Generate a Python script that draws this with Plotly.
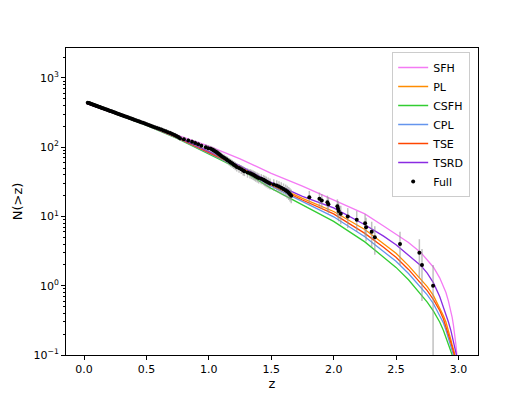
import plotly.graph_objects as go

# ---- data ----
# cumulative counts N(>z) of the full sample (black points)
z_full = [0.029, 0.037, 0.045, 0.052, 0.060, 0.068, 0.076, 0.084, 0.093, 0.100,
          0.108, 0.117, 0.126, 0.134, 0.143, 0.152, 0.161, 0.171, 0.181, 0.190,
          0.199, 0.209, 0.219, 0.229, 0.240, 0.250, 0.260, 0.271, 0.282, 0.293,
          0.304, 0.315, 0.326, 0.338, 0.351, 0.364, 0.377, 0.389, 0.401, 0.415,
          0.430, 0.443, 0.457, 0.472, 0.487, 0.502, 0.518, 0.533, 0.549, 0.566,
          0.584, 0.601, 0.619, 0.637, 0.655, 0.672, 0.690, 0.707, 0.725, 0.740,
          0.755, 0.769, 0.800, 0.835, 0.865, 0.890, 0.915, 0.940, 0.975,
          0.995, 1.015, 1.030, 1.040, 1.052, 1.063, 1.072, 1.080, 1.090, 1.100,
          1.112, 1.125, 1.140, 1.150, 1.165, 1.175, 1.188, 1.200, 1.212, 1.224,
          1.242, 1.260, 1.275, 1.285, 1.310, 1.330, 1.343, 1.355, 1.365, 1.375,
          1.388, 1.400, 1.420, 1.437, 1.448, 1.460, 1.475, 1.490, 1.520, 1.544,
          1.562, 1.580, 1.598, 1.615, 1.628, 1.640, 1.650, 1.660,
          1.805, 1.886, 1.905, 1.950, 1.958, 2.030, 2.035, 2.040, 2.057, 2.113,
          2.185, 2.252, 2.260, 2.305, 2.330, 2.532, 2.687, 2.708, 2.797]
n_full = [440, 435, 430, 425, 420, 415, 410, 405, 400, 395,
          390, 385, 380, 375, 370, 365, 360, 355, 350, 345,
          340, 335, 330, 325, 320, 315, 310, 305, 300, 295,
          290, 285, 280, 275, 270, 265, 260, 255, 250, 245,
          240, 235, 230, 225, 220, 215, 210, 205, 200, 195,
          190, 185, 180, 175, 170, 165, 160, 155, 150, 145,
          140, 135, 130, 125, 120, 115, 110, 105, 100,
          97, 95, 92, 90, 87, 85, 82, 80, 77, 75,
          72, 70, 67, 65, 62, 60, 58, 56, 54, 52,
          50, 48, 46, 45, 43, 42, 41, 40, 39, 38,
          37, 36, 35, 34, 33, 32, 31, 30, 29, 28,
          27, 26, 25, 24, 23, 22, 21, 20,
          19, 18, 17, 16, 15, 14, 13, 12, 11, 10,
          9, 8, 7, 6, 5, 4, 3, 2, 1]
err_full = [21.0, 20.9, 20.7, 20.6, 20.5, 20.4, 20.2, 20.1, 20.0, 19.9,
            19.7, 19.6, 19.5, 19.4, 19.2, 19.1, 19.0, 18.8, 18.7, 18.6,
            18.4, 18.3, 18.2, 18.0, 17.9, 17.7, 17.6, 17.5, 17.3, 17.2,
            17.0, 16.9, 16.7, 16.6, 16.4, 16.3, 16.1, 16.0, 15.8, 15.7,
            15.5, 15.3, 15.2, 15.0, 14.8, 14.7, 14.5, 14.3, 14.1, 14.0,
            13.8, 13.6, 13.4, 13.2, 13.0, 12.8, 12.6, 12.4, 12.2, 12.0,
            11.8, 11.6, 11.4, 11.2, 11.0, 10.7, 10.5, 10.2, 10.0,
            9.8, 9.7, 9.6, 9.5, 9.3, 9.2, 9.1, 8.9, 8.8, 8.7,
            8.5, 8.4, 8.2, 8.1, 7.9, 7.7, 7.6, 7.5, 7.3, 7.2,
            7.1, 6.9, 6.8, 6.7, 6.6, 6.5, 6.4, 6.3, 6.2, 6.2,
            6.1, 6.0, 5.9, 5.8, 5.7, 5.7, 5.6, 5.5, 5.4, 5.3,
            5.2, 5.1, 5.0, 4.9, 4.8, 4.7, 4.6, 4.5,
            4.4, 4.2, 4.1, 4.0, 3.9, 3.7, 3.6, 3.5, 3.3, 3.2,
            3.0, 2.8, 2.6, 2.4, 2.2, 2.0, 1.7, 1.4, 1.0]

# model predictions
z_model = [0.02, 0.25, 0.5, 0.75, 1.0, 1.25, 1.5, 1.75, 2.0, 2.25, 2.4, 2.5,
           2.6, 2.7, 2.75, 2.8, 2.85, 2.88, 2.9, 2.92, 2.94, 2.95, 2.96, 2.97,
           2.98, 2.99, 3.0]
n_sfh = [425, 300, 210, 148, 104, 68, 42, 27.5, 17.5, 10.9, 7.3, 5.6,
         4.2, 3.0, 2.4, 1.85, 1.3, 1.0, 0.8, 0.6, 0.43, 0.35, 0.27, 0.2,
         0.14, 0.09, 0.03]
n_pl = [435, 310, 210, 137, 86, 52, 29.5, 18.3, 11.8, 6.5, 4.1, 2.95,
        1.95, 1.25, 0.97, 0.72, 0.49, 0.37, 0.3, 0.23, 0.165, 0.14, 0.12, 0.105,
        0.05, 0.02, 0.01]
n_csfh = [435, 308, 207, 133, 81, 48, 25.5, 14.8, 8.5, 4.3, 2.6, 1.84,
          1.22, 0.76, 0.58, 0.43, 0.3, 0.225, 0.18, 0.14, 0.11, 0.1, 0.04, 0.01,
          0.01, 0.01, 0.01]
n_cpl = [435, 310, 209, 135, 83, 50, 27.5, 16.3, 9.9, 5.1, 3.15, 2.25,
         1.5, 0.95, 0.74, 0.55, 0.38, 0.29, 0.23, 0.175, 0.13, 0.113, 0.1, 0.04,
         0.01, 0.01, 0.01]
n_tse = [435, 310, 210, 136, 84, 51, 28.5, 17.3, 10.9, 5.7, 3.6, 2.57,
         1.72, 1.1, 0.85, 0.63, 0.44, 0.33, 0.26, 0.2, 0.15, 0.13, 0.11, 0.095,
         0.03, 0.01, 0.01]
n_tsrd = [435, 310, 212, 140, 88, 54, 31, 19.5, 13.3, 7.6, 5.2, 3.9,
          2.75, 1.95, 1.52, 1.1, 0.7, 0.5, 0.4, 0.3, 0.225, 0.19, 0.16, 0.135,
          0.112, 0.09, 0.03]

models = [("SFH", n_sfh, "#F47AF4"),
          ("PL", n_pl, "#FF8C00"),
          ("CSFH", n_csfh, "#32CD32"),
          ("CPL", n_cpl, "#6495ED"),
          ("TSE", n_tse, "#FF4500"),
          ("TSRD", n_tsrd, "#8A2BE2")]

x_ticks = [0.0, 0.5, 1.0, 1.5, 2.0, 2.5, 3.0]
y_ticks = [0.1, 1, 10, 100, 1000]
y_ticktext = ["10<sup>\u22121</sup>", "10<sup>0</sup>", "10<sup>1</sup>",
              "10<sup>2</sup>", "10<sup>3</sup>"]

fig = go.Figure()

for name, vals, col in models:
    fig.add_trace(go.Scatter(x=z_model, y=vals, mode="lines", name=name,
                             line=dict(color=col, width=1.3)))

# lower errors can not go below zero on a log axis
err_lo = [min(e, n - 0.001) for e, n in zip(err_full, n_full)]
fig.add_trace(go.Scatter(x=z_full, y=n_full, mode="markers", name="Full",
                         marker=dict(color="black", size=4),
                         error_y=dict(type="data", array=err_full, arrayminus=err_lo,
                                      symmetric=False, color="rgba(150,150,150,0.6)",
                                      thickness=1.5, width=0)))

minor_vals = [m * 10 ** e for e in range(-1, 4) for m in range(2, 10)]

# the page body adds an 8px offset, so the figure is made 8px smaller
fig.update_layout(
    width=523, height=391,
    margin=dict(l=58, r=53, t=40, b=44, autoexpand=False),
    paper_bgcolor="white", plot_bgcolor="white",
    font=dict(family="DejaVu Sans", size=11, color="black"),
    showlegend=True,
    legend=dict(x=0.981, y=0.987, xanchor="right", yanchor="top",
                bgcolor="rgba(255,255,255,0.8)", bordercolor="#cccccc", borderwidth=1,
                font=dict(size=11), tracegroupgap=0),
    xaxis=dict(range=[-0.145, 3.157], tickvals=x_ticks, tickformat=".1f",
               automargin=False,
               showgrid=False, zeroline=False, showline=True, linecolor="black",
               linewidth=1, mirror=True, ticks="outside", ticklen=4, tickwidth=1,
               tickcolor="black", title=dict(text="z", standoff=2)),
    yaxis=dict(type="log", range=[-1, 3.433], tickvals=y_ticks, ticktext=y_ticktext,
               automargin=False,
               showgrid=False, zeroline=False, showline=True, linecolor="black",
               linewidth=1, mirror=True, ticks="outside", ticklen=4, tickwidth=1,
               tickcolor="black", title=dict(text="N(>z)", standoff=7),
               minor=dict(tickvals=minor_vals, ticks="outside", ticklen=2,
                          tickcolor="black", showgrid=False)),
)

fig.write_html("out.html")
